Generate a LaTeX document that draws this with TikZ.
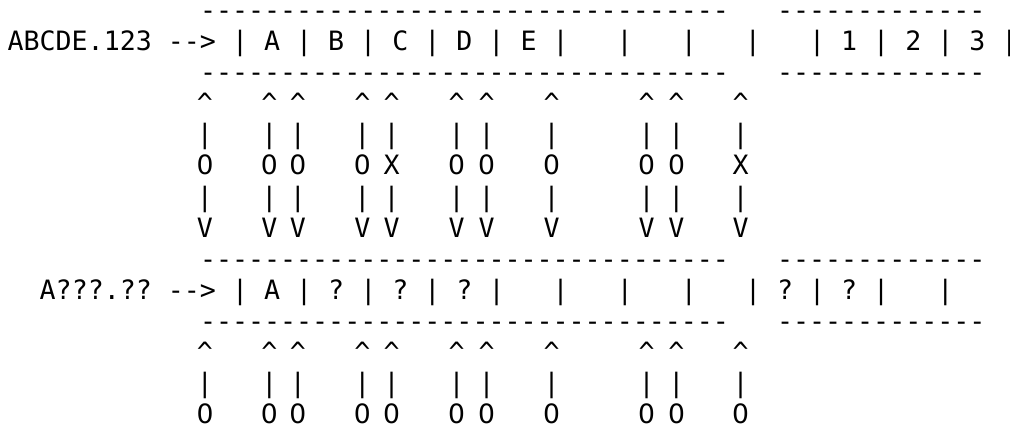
\documentclass[tikz,border=0pt]{standalone}
\usepackage{fontspec}
\setmonofont{DejaVu Sans Mono}
\newfontfamily\zerofont{DejaVu Sans}
\usepackage{tikz}

\begin{document}
\begin{tikzpicture}[x=0.75pt, y=-0.75pt,
    every node/.style={inner sep=0pt, outer sep=0pt,
      font=\ttfamily\fontsize{19.97pt}{23.25pt}\selectfont},
    row/.style={anchor=base west},
    glyph/.style={anchor=base}]
  \useasboundingbox (0,0) rectangle (1010,424);
  \node[row] (bartop) at (200,20) {---------------------------------~~~-------------};
  \node[row] (src) at (7.6,51) {ABCDE.123~-->~|~A~|~B~|~C~|~D~|~E~|~~~|~~~|~~~|~~~|~1~|~2~|~3~|};
  \node[row] (barmid) at (200,82) {---------------------------------~~~-------------};
  \foreach \x/\bitval [count=\i] in {205/\zerofont 0, 269.3/\zerofont 0, 297.8/\zerofont 0,
      362.3/\zerofont 0, 391.7/X, 456.7/\zerofont 0, 486.7/\zerofont 0, 551.7/\zerofont 0,
      646.7/\zerofont 0, 676.5/\zerofont 0, 740.7/X} {
    \node[glyph] (up\i) at (\x,113) {\textasciicircum};
    \node[glyph] (upbar\i) at (\x,144) {|};
    \node[glyph] (bit\i) at (\x,175) {\bitval};
    \node[glyph] (downbar\i) at (\x,206) {|};
    \node[glyph] (down\i) at (\x,237) {V};
  }
  \node[row] (barlow) at (200,268) {---------------------------------~~~-------------};
  \node[row] (dst) at (39.7,299) {A???.??~-->~|~A~|~?~|~?~|~?~|~~~|~~~|~~~|~~~|~?~|~?~|~~~|};
  \node[row] (barbot) at (200,330) {---------------------------------~~~-------------};
  \foreach \x [count=\i] in {205, 269.3, 297.8, 362.3, 391.7, 456.7,
      486.7, 551.7, 646.7, 676.5, 740.7} {
    \node[glyph] (back\i) at (\x,361) {\textasciicircum};
    \node[glyph] (backbar\i) at (\x,392) {|};
    \node[glyph] (flag\i) at (\x,423) {\zerofont 0};
  }
\end{tikzpicture}
\end{document}
